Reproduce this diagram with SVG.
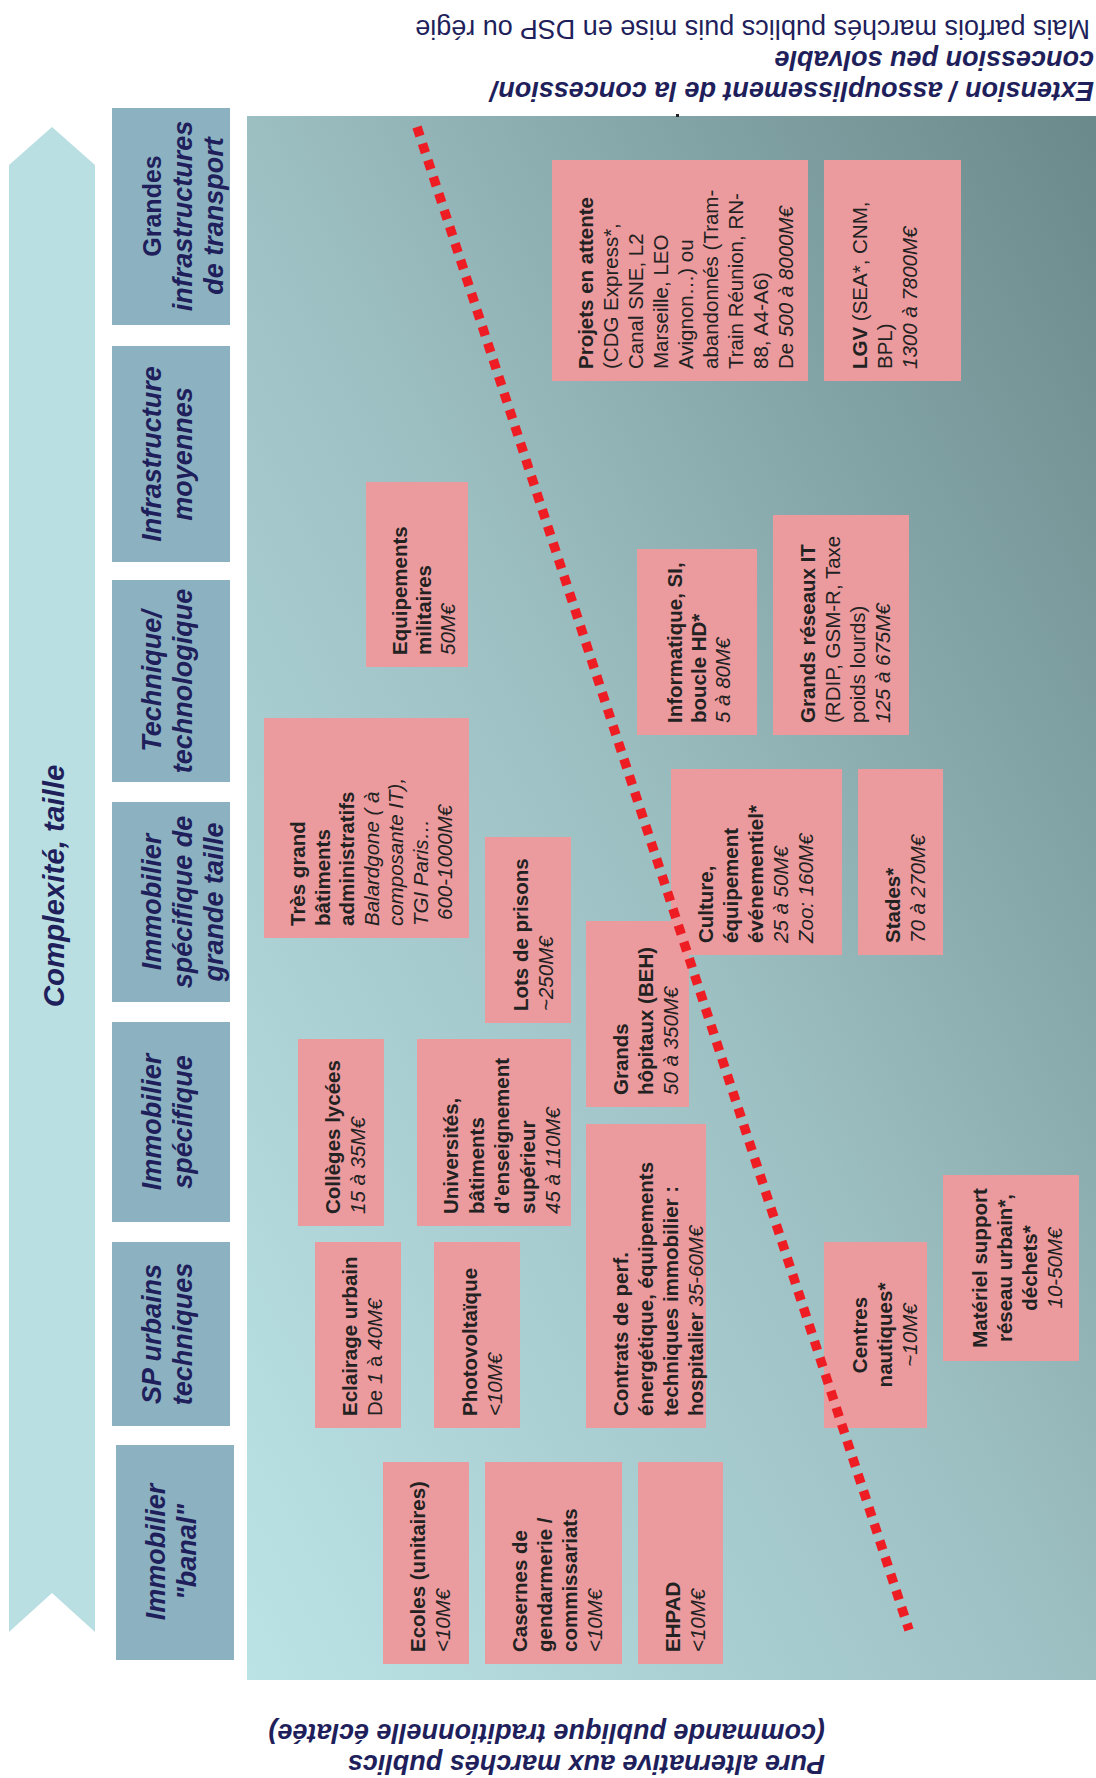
<svg xmlns="http://www.w3.org/2000/svg" width="1096" height="1778" viewBox="0 0 1096 1778">
<defs>
<linearGradient id="bg" x1="0" y1="1" x2="1" y2="0">
<stop offset="0" stop-color="#bbe3e6"/>
<stop offset="0.5" stop-color="#9cbfc2"/>
<stop offset="1" stop-color="#6a898b"/>
</linearGradient>
<style>
.f{font-family:"Liberation Sans",Arial,sans-serif}
.cat{fill:#8cb2c1}
.catt{font-family:"Liberation Sans",Arial,sans-serif;font-weight:bold;font-style:italic;font-size:27px;fill:#1f1f5c;text-anchor:middle}
.box{fill:#eb9a9d}
.bt{font-family:"Liberation Sans",Arial,sans-serif;font-size:20.5px;fill:#222}
.mid{text-anchor:middle}
.b{font-weight:bold}
.i{font-style:italic}
.title{font-family:"Liberation Sans",Arial,sans-serif;font-size:27px;fill:#1f1f5c}
.bi{font-weight:bold;font-style:italic}
</style>
</defs>
<rect x="0" y="0" width="1096" height="1778" fill="#ffffff"/>

<g id="titles">
<text class="title" transform="translate(1090,20) rotate(180)">Mais parfois marchés publics puis mise en DSP ou régie</text>
<text class="title bi" transform="translate(1094,51) rotate(180)">concession peu solvable</text>
<text class="title bi" transform="translate(1094,82) rotate(180)">Extension / assouplissement de la concession/</text>
<text class="title bi" transform="translate(825,1724) rotate(180)">(commande publique traditionnelle éclatée)</text>
<text class="title bi" transform="translate(825,1755) rotate(180)">Pure alternative aux marchés publics</text>
</g>

<g id="axis">
<polygon points="9,165 52,127 95,165 95,1632 52,1593 9,1632" fill="#b9dfe3"/>
<text class="f" transform="translate(64,886) rotate(-90)" font-size="29.5" font-weight="bold" font-style="italic" fill="#1f1f5c" text-anchor="middle">Complexité, taille</text>
</g>

<rect id="panel" x="247" y="116" width="849" height="1564" fill="url(#bg)"/>
<rect x="676" y="114" width="3" height="3" fill="#222"/>

<g id="categories">
<g id="cat1"><rect class="cat" x="112" y="108" width="118" height="217"/>
<text class="catt" transform="translate(161,216) rotate(-90)"><tspan x="10" y="0" font-style="normal" font-size="25">Grandes</tspan><tspan x="0" dy="31">infrastructures</tspan><tspan x="0" dy="31">de transport</tspan></text></g>
<g id="cat2"><rect class="cat" x="112" y="346" width="118" height="216"/>
<text class="catt" transform="translate(161,454) rotate(-90)"><tspan x="0" y="0">Infrastructure</tspan><tspan x="0" dy="31">moyennes</tspan></text></g>
<g id="cat3"><rect class="cat" x="112" y="580" width="118" height="202"/>
<text class="catt" transform="translate(161,681) rotate(-90)"><tspan x="0" y="0">Technique/</tspan><tspan x="0" dy="31">technologique</tspan></text></g>
<g id="cat4"><rect class="cat" x="112" y="802" width="118" height="200"/>
<text class="catt" transform="translate(161,902) rotate(-90)"><tspan x="0" y="0">Immobilier</tspan><tspan x="0" dy="31">spécifique de</tspan><tspan x="0" dy="31">grande taille</tspan></text></g>
<g id="cat5"><rect class="cat" x="112" y="1022" width="118" height="200"/>
<text class="catt" transform="translate(161,1122) rotate(-90)"><tspan x="0" y="0">Immobilier</tspan><tspan x="0" dy="31">spécifique</tspan></text></g>
<g id="cat6"><rect class="cat" x="112" y="1242" width="118" height="184"/>
<text class="catt" transform="translate(161,1334) rotate(-90)"><tspan x="0" y="0">SP urbains</tspan><tspan x="0" dy="31">techniques</tspan></text></g>
<g id="cat7"><rect class="cat" x="116" y="1445" width="118" height="215"/>
<text class="catt" transform="translate(165,1552) rotate(-90)"><tspan x="0" y="0">Immobilier</tspan><tspan x="0" dy="31">"banal"</tspan></text></g>
</g>

<g id="boxes">
<g id="projets"><rect class="box" x="552" y="160" width="256" height="221"/>
<text class="bt" transform="translate(593,369) rotate(-90)"><tspan x="0" y="0" class="b">Projets en attente</tspan><tspan x="0" dy="25">(CDG Express*,</tspan><tspan x="0" dy="25">Canal SNE, L2</tspan><tspan x="0" dy="25">Marseille, LEO</tspan><tspan x="0" dy="25">Avignon…) ou</tspan><tspan x="0" dy="25">abandonnés (Tram-</tspan><tspan x="0" dy="25">Train Réunion, RN-</tspan><tspan x="0" dy="25">88, A4-A6)</tspan><tspan x="0" dy="25">De <tspan class="i">500 à 8000M€</tspan></tspan></text></g>
<g id="lgv"><rect class="box" x="824" y="160" width="137" height="221"/>
<text class="bt" transform="translate(867,369) rotate(-90)"><tspan x="0" y="0"><tspan class="b">LGV</tspan> (SEA*, CNM,</tspan><tspan x="0" dy="25">BPL)</tspan><tspan x="0" dy="25" class="i">1300 à 7800M€</tspan></text></g>
<g id="militaires"><rect class="box" x="366" y="482" width="102" height="185"/>
<text class="bt" transform="translate(407,655) rotate(-90)"><tspan x="0" y="0" class="b">Equipements</tspan><tspan x="0" dy="24" class="b">militaires</tspan><tspan x="0" dy="24" class="i">50M€</tspan></text></g>
<g id="admin"><rect class="box" x="264" y="718" width="205" height="220"/>
<text class="bt" transform="translate(305,926) rotate(-90)"><tspan x="0" y="0" class="b">Très grand</tspan><tspan x="0" dy="24.5" class="b">bâtiments</tspan><tspan x="0" dy="24.5" class="b">administratifs</tspan><tspan x="0" dy="24.5" class="i">Balardgone ( à</tspan><tspan x="0" dy="24.5" class="i">composante IT),</tspan><tspan x="0" dy="24.5" class="i">TGI Paris…</tspan><tspan x="6" dy="24.5" class="i">600-1000M€</tspan></text></g>
<g id="informatique"><rect class="box" x="637" y="549" width="120" height="186"/>
<text class="bt" transform="translate(682,723) rotate(-90)"><tspan x="0" y="0" class="b">Informatique, SI,</tspan><tspan x="0" dy="24" class="b">boucle HD*</tspan><tspan x="0" dy="24" class="i">5 à 80M€</tspan></text></g>
<g id="reseaux"><rect class="box" x="773" y="515" width="136" height="220"/>
<text class="bt" transform="translate(815,723) rotate(-90)"><tspan x="0" y="0" class="b">Grands réseaux IT</tspan><tspan x="0" dy="25">(RDIP, GSM-R, Taxe</tspan><tspan x="0" dy="25">poids lourds)</tspan><tspan x="0" dy="25" class="i">125 à 675M€</tspan></text></g>
<g id="culture"><rect class="box" x="671" y="769" width="171" height="186"/>
<text class="bt" transform="translate(713,943) rotate(-90)"><tspan x="0" y="0" class="b">Culture,</tspan><tspan x="0" dy="25" class="b">équipement</tspan><tspan x="0" dy="25" class="b">événementiel*</tspan><tspan x="0" dy="25" class="i">25 à 50M€</tspan><tspan x="0" dy="25" class="i">Zoo: 160M€</tspan></text></g>
<g id="stades"><rect class="box" x="858" y="769" width="85" height="186"/>
<text class="bt" transform="translate(900,943) rotate(-90)"><tspan x="0" y="0" class="b">Stades*</tspan><tspan x="0" dy="25" class="i">70 à 270M€</tspan></text></g>
<g id="prisons"><rect class="box" x="485" y="837" width="86" height="186"/>
<text class="bt" transform="translate(528,1011) rotate(-90)"><tspan x="0" y="0" class="b">Lots de prisons</tspan><tspan x="0" dy="25" class="i">~250M€</tspan></text></g>
<g id="hopitaux"><rect class="box" x="586" y="921" width="103" height="186"/>
<text class="bt" transform="translate(628,1095) rotate(-90)"><tspan x="0" y="0" class="b">Grands</tspan><tspan x="0" dy="25" class="b">hôpitaux (BEH)</tspan><tspan x="0" dy="25" class="i">50 à 350M€</tspan></text></g>
<g id="colleges"><rect class="box" x="298" y="1039" width="86" height="187"/>
<text class="bt" transform="translate(340,1214) rotate(-90)"><tspan x="0" y="0" class="b">Collèges lycées</tspan><tspan x="0" dy="25" class="i">15 à 35M€</tspan></text></g>
<g id="universites"><rect class="box" x="417" y="1039" width="154" height="187"/>
<text class="bt" transform="translate(458,1214) rotate(-90)"><tspan x="0" y="0" class="b">Universités,</tspan><tspan x="0" dy="25.5" class="b">bâtiments</tspan><tspan x="0" dy="25.5" class="b">d’enseignement</tspan><tspan x="0" dy="25.5" class="b">supérieur</tspan><tspan x="0" dy="25.5" class="i">45 à 110M€</tspan></text></g>
<g id="contrats"><rect class="box" x="586" y="1124" width="120" height="304"/>
<text class="bt" transform="translate(628,1416) rotate(-90)"><tspan x="0" y="0" class="b">Contrats de perf.</tspan><tspan x="0" dy="25" class="b">énergétique, équipements</tspan><tspan x="0" dy="25" class="b">techniques immobilier :</tspan><tspan x="0" dy="25"><tspan class="b">hospitalier</tspan><tspan class="i"> 35-60M€</tspan></tspan></text></g>
<g id="eclairage"><rect class="box" x="315" y="1242" width="86" height="186"/>
<text class="bt" transform="translate(357,1416) rotate(-90)"><tspan x="0" y="0" class="b">Eclairage urbain</tspan><tspan x="0" dy="25">De <tspan class="i">1</tspan> à <tspan class="i">40M€</tspan></tspan></text></g>
<g id="photovoltaique"><rect class="box" x="434" y="1242" width="86" height="186"/>
<text class="bt" transform="translate(477,1416) rotate(-90)"><tspan x="0" y="0" class="b">Photovoltaïque</tspan><tspan x="0" dy="25" class="i">&lt;10M€</tspan></text></g>
<g id="ecoles"><rect class="box" x="383" y="1462" width="86" height="202"/>
<text class="bt" transform="translate(425,1652) rotate(-90)"><tspan x="0" y="0" class="b">Ecoles (unitaires)</tspan><tspan x="0" dy="25" class="i">&lt;10M€</tspan></text></g>
<g id="casernes"><rect class="box" x="485" y="1462" width="137" height="202"/>
<text class="bt" transform="translate(527,1652) rotate(-90)"><tspan x="0" y="0" class="b">Casernes de</tspan><tspan x="0" dy="25" class="b">gendarmerie /</tspan><tspan x="0" dy="25" class="b">commissariats</tspan><tspan x="0" dy="25" class="i">&lt;10M€</tspan></text></g>
<g id="ehpad"><rect class="box" x="638" y="1462" width="85" height="202"/>
<text class="bt" transform="translate(680,1652) rotate(-90)"><tspan x="0" y="0" class="b">EHPAD</tspan><tspan x="0" dy="25" class="i">&lt;10M€</tspan></text></g>
<g id="nautiques"><rect class="box" x="824" y="1242" width="103" height="186"/>
<text class="bt mid" transform="translate(867,1335) rotate(-90)"><tspan x="0" y="0" class="b">Centres</tspan><tspan x="0" dy="25" class="b">nautiques*</tspan><tspan x="0" dy="25" class="i">~10M€</tspan></text></g>
<g id="materiel"><rect class="box" x="943" y="1175" width="136" height="186"/>
<text class="bt mid" transform="translate(987,1268) rotate(-90)"><tspan x="0" y="0" class="b">Matériel support</tspan><tspan x="0" dy="25" class="b">réseau urbain*,</tspan><tspan x="0" dy="25" class="b">déchets*</tspan><tspan x="0" dy="25" class="i">10-50M€</tspan></text></g>
</g>

<g id="connectors">
<line x1="417" y1="127" x2="909" y2="1630" stroke="#ee1d23" stroke-width="9.5" stroke-dasharray="9.5 8"/>
</g>
</svg>
